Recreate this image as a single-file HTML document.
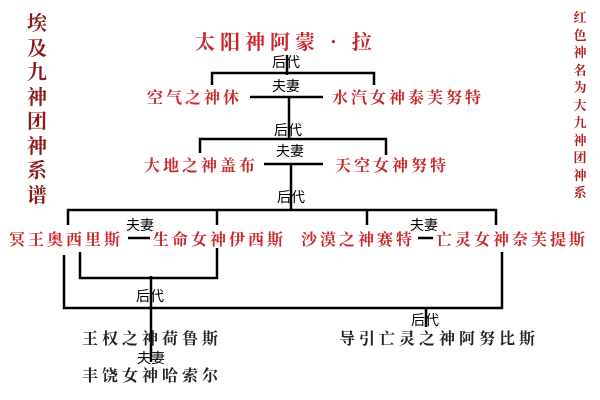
<!DOCTYPE html>
<html><head><meta charset="utf-8"><style>
body{margin:0;width:600px;height:400px;background:#fff;overflow:hidden;position:relative}
.t{position:absolute;white-space:nowrap;line-height:1}
.r{color:#c8282a;font-family:"Noto Serif CJK SC",serif;font-weight:bold;font-size:16px;letter-spacing:3px}
.k{color:#222;font-family:"Noto Serif CJK SC",serif;font-weight:bold;font-size:16px;letter-spacing:4px}
.s{color:#000;font-family:"Liberation Sans","Noto Sans CJK SC",sans-serif;font-size:14px}
.v{position:absolute;color:#8b1a1a;font-family:"Noto Serif CJK SC",serif;font-weight:bold;text-align:center}
</style></head><body>
<svg width="600" height="400" style="position:absolute;left:0;top:0" stroke="#000" stroke-width="2.5" fill="none">
<path d="M287 55V75M212 85V73H374V85M250 97H323M289 97V139M200 153V139H386V155M264 164H323M291 164V210M68 225V210H496V225M217 210V225M367 210V225"/>
<path d="M128 238H150M418 238H433"/>
<path d="M80 252V278H217V248M151 276V362M64 255V308H502V252M426 308V327"/>
</svg>
<div class="v" style="left:24px;top:10px;width:26px;font-size:20px;line-height:24.5px">埃<br>及<br>九<br>神<br>团<br>神<br>系<br>谱</div>
<div class="v" style="left:572px;top:8px;width:16px;font-size:13px;line-height:17.5px;color:#b02020">红<br>色<br>神<br>名<br>为<br>大<br>九<br>神<br>团<br>神<br>系</div>
<div class="t r" style="left:195px;top:31px;font-size:20px;letter-spacing:5px">太阳神阿蒙 · 拉</div>
<div class="t s" style="left:272px;top:55px">后代</div>
<div class="t s" style="left:272px;top:79px">夫妻</div>
<div class="t r" style="left:147px;top:89px">空气之神休</div>
<div class="t r" style="left:332px;top:89px">水汽女神泰芙努特</div>
<div class="t s" style="left:274px;top:123px">后代</div>
<div class="t s" style="left:276px;top:144px">夫妻</div>
<div class="t r" style="left:144px;top:157px">大地之神盖布</div>
<div class="t r" style="left:335px;top:157px">天空女神努特</div>
<div class="t s" style="left:277px;top:190px">后代</div>
<div class="t s" style="left:126px;top:218px">夫妻</div>
<div class="t s" style="left:410px;top:218px">夫妻</div>
<div class="t r" style="left:9px;top:231px">冥王奥西里斯</div>
<div class="t r" style="left:153px;top:231px">生命女神伊西斯</div>
<div class="t r" style="left:301px;top:231px">沙漠之神赛特</div>
<div class="t r" style="left:436px;top:231px">亡灵女神奈芙提斯</div>
<div class="t s" style="left:136px;top:289px">后代</div>
<div class="t s" style="left:411px;top:313px">后代</div>
<div class="t k" style="left:82px;top:330px">王权之神荷鲁斯</div>
<div class="t s" style="left:137px;top:351px">夫妻</div>
<div class="t k" style="left:82px;top:367px">丰饶女神哈索尔</div>
<div class="t k" style="left:339px;top:330px">导引亡灵之神阿努比斯</div>
</body></html>
